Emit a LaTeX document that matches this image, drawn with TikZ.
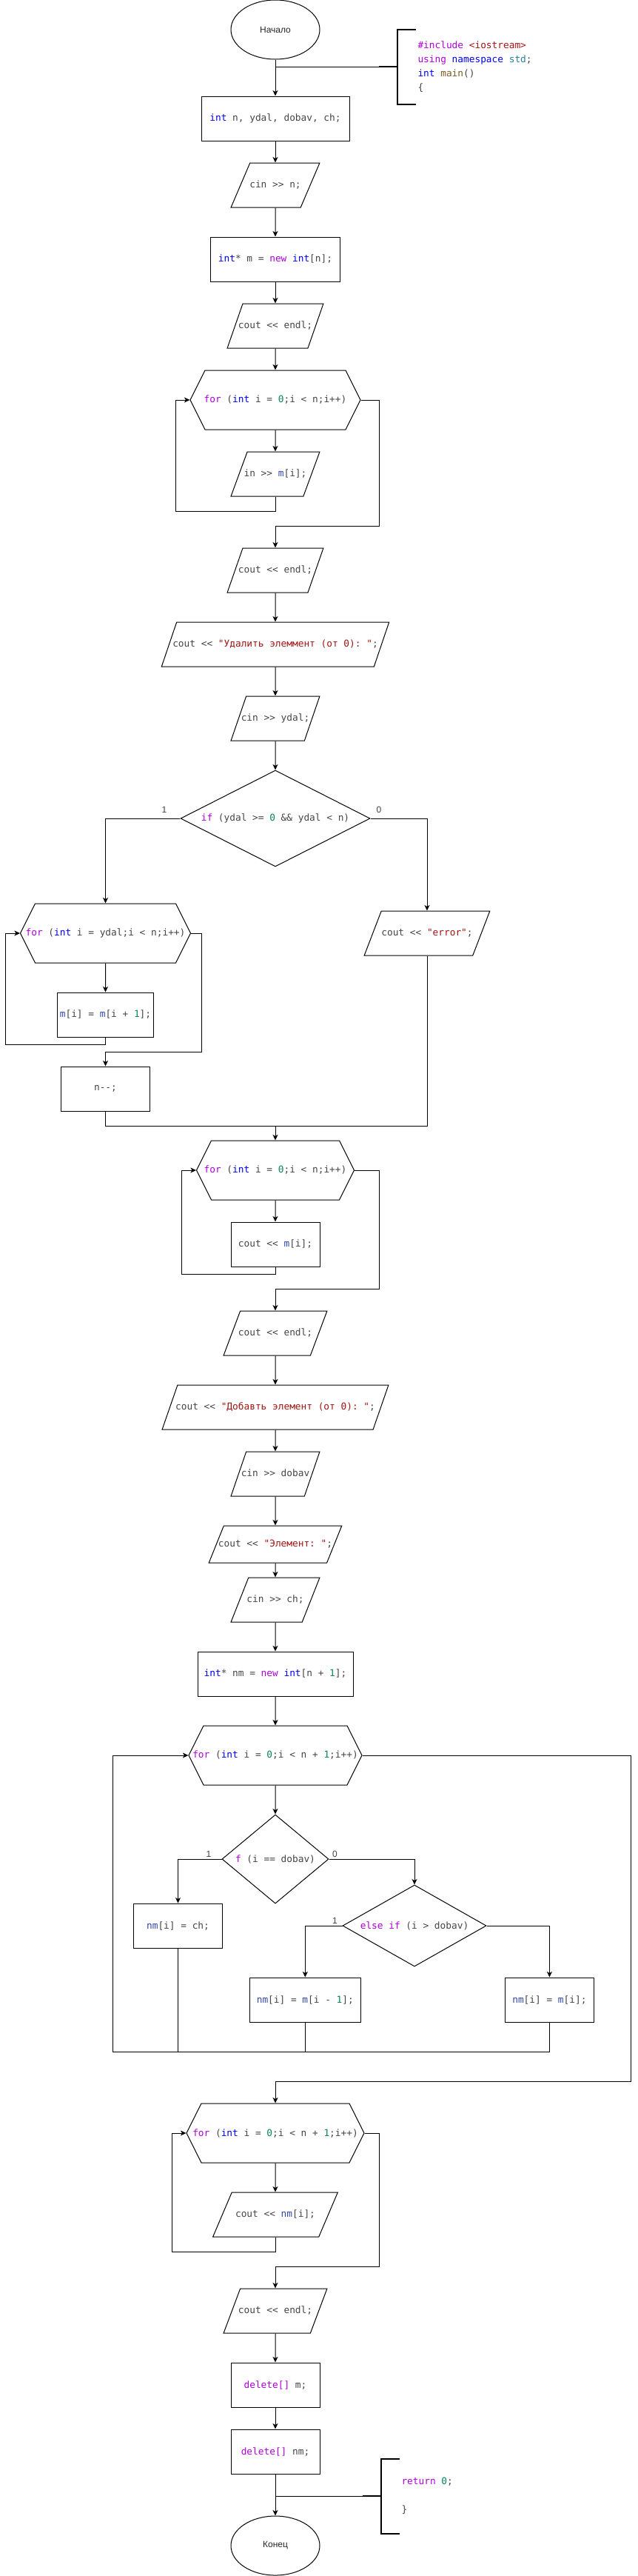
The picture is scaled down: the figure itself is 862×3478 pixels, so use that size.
\documentclass[tikz,border=0pt]{standalone}
\usepackage{fontspec}
\setmainfont{Liberation Sans}
\setmonofont{DejaVu Sans Mono}
\usetikzlibrary{arrows.meta,shapes.geometric,shapes.symbols}

\definecolor{kwcol}{HTML}{AF00DB}
\definecolor{tycol}{HTML}{0000FF}
\definecolor{numcol}{HTML}{098658}
\definecolor{strcol}{HTML}{A31515}
\definecolor{varcol}{HTML}{3246AA}
\definecolor{fncol}{HTML}{795E26}
\definecolor{nscol}{HTML}{267F99}
\definecolor{codegray}{HTML}{454545}

\newcommand{\ckw}[1]{\textcolor{kwcol}{#1}}
\newcommand{\cty}[1]{\textcolor{tycol}{#1}}
\newcommand{\cnum}[1]{\textcolor{numcol}{#1}}
\newcommand{\cstr}[1]{\textcolor{strcol}{#1}}
\newcommand{\cvar}[1]{\textcolor{varcol}{#1}}
\newcommand{\cfn}[1]{\textcolor{fncol}{#1}}
\newcommand{\cns}[1]{\textcolor{nscol}{#1}}

\begin{document}
\begin{tikzpicture}[x=1pt,y=-1pt,line width=1pt,>={Stealth[length=7.5pt,width=7pt,inset=2pt]},
  font=\ttfamily\fontsize{12.8}{16}\selectfont,text=codegray,
  term/.style={draw,ellipse,minimum width=120pt,minimum height=80pt,inner sep=0pt,
    font=\rmfamily\fontsize{12}{14}\selectfont,text=black!85},
  proc/.style={draw,rectangle,minimum height=60pt,inner sep=0pt},
  io/.style={draw,trapezium,trapezium left angle=71.57,trapezium right angle=108.43,
    trapezium stretches=true,text height=9pt,text depth=3pt,inner xsep=-8pt,inner ysep=24pt},
  loophead/.style={draw,signal,signal to=east and west,signal pointer angle=126.87,
    minimum width=230pt,minimum height=80pt,inner xsep=-16pt,inner ysep=0pt},
  decide/.style={draw,diamond,inner sep=1pt},
  note/.style={anchor=west,align=left,minimum height=100pt,inner xsep=27pt,inner ysep=0pt,
    font=\ttfamily\fontsize{12.8}{19}\selectfont},
  brk/.style={line width=2pt},
  lbl/.style={font=\rmfamily\fontsize{12}{14}\selectfont,text=black!75,inner sep=0pt}]

  \fill[white] (0,0) rectangle (862,3478);
  \useasboundingbox (0,0) rectangle (862,3478);

  % main column
  \node[term] (start) at (372,40) {Начало};
  \node[proc,minimum width=200pt] (decl) at (372,160) {\cty{int} n, ydal, dobav, ch;};
  \node[io,minimum width=120pt] (inn) at (372,250) {cin >> n;};
  \node[proc,minimum width=175pt] (newm) at (372,350) {\cty{int}* m = \ckw{new} \cty{int}[n];};
  \node[io,minimum width=130pt] (endla) at (372,440) {cout << endl;};
  \node[loophead] (fora) at (372,540) {\ckw{for} (\cty{int} i = \cnum{0};i < n;i++)};
  \node[io,minimum width=120pt] (inm) at (372,640) {in >> \cvar{m}[i];};
  \node[io,minimum width=130pt] (endlb) at (372,770) {cout << endl;};
  \node[io,minimum width=308pt] (askdel) at (372,870) {cout << \cstr{"Удалить элеммент (от 0): "};};
  \node[io,minimum width=120pt] (inydal) at (372,970) {cin >> ydal;};
  \node[decide,minimum width=256pt,minimum height=130pt,shape aspect=1.97] (ifdel) at (372,1105)
    {\ckw{if} (ydal >= \cnum{0} \&\& ydal < n)};

  % removing branch
  \node[loophead] (forb) at (142.5,1260) {\ckw{for} (\cty{int} i = ydal;i < n;i++)};
  \node[proc,minimum width=130pt] (shift) at (142.5,1370) {\cvar{m}[i] = \cvar{m}[i + \cnum{1}];};
  \node[proc,minimum width=120pt] (dec) at (142.5,1470) {n--;};
  \node[io,minimum width=170pt] (err) at (577,1260) {cout << \cstr{"error"};};

  \node[loophead,minimum width=213pt] (forc) at (372,1580) {\ckw{for} (\cty{int} i = \cnum{0};i < n;i++)};
  \node[proc,minimum width=120pt] (outm) at (372,1680) {cout << \cvar{m}[i];};
  \node[io,minimum width=140pt] (endlc) at (372,1800) {cout << endl;};
  \node[io,minimum width=306pt] (askadd) at (372,1900) {cout << \cstr{"Добавть элемент (от 0): "};};
  \node[io,minimum width=120pt] (indob) at (372,1990) {cin >> dobav};
  \node[io,minimum width=180pt,inner ysep=19pt,trapezium left angle=68.2,
    trapezium right angle=111.8] (askch) at (372,2085) {cout << \cstr{"Элемент: "};};
  \node[io,minimum width=120pt] (inch) at (372,2160) {cin >> ch;};
  \node[proc,minimum width=210pt] (newnm) at (372,2260) {\cty{int}* nm = \ckw{new} \cty{int}[n + \cnum{1}];};

  % adding loop
  \node[loophead,minimum width=234pt] (ford) at (372,2370)
    {\ckw{for} (\cty{int} i = \cnum{0};i < n + \cnum{1};i++)};
  \node[decide,minimum width=144pt,minimum height=120pt,shape aspect=1.2] (ifeq) at (372,2510)
    {\ckw{f} (i == dobav)};
  \node[proc,minimum width=120pt] (seteq) at (240.5,2600) {\cvar{nm}[i] = ch;};
  \node[decide,minimum width=194pt,minimum height=110pt,shape aspect=1.76] (ifgt) at (560,2600)
    {\ckw{else if} (i > dobav)};
  \node[proc,minimum width=150pt] (setgt) at (412.3,2700) {\cvar{nm}[i] = \cvar{m}[i - \cnum{1}];};
  \node[proc,minimum width=120pt] (setlt) at (742.4,2700) {\cvar{nm}[i] = \cvar{m}[i];};

  \node[loophead,minimum width=240pt] (fore) at (372,2880)
    {\ckw{for} (\cty{int} i = \cnum{0};i < n + \cnum{1};i++)};
  \node[io,minimum width=169pt] (outnm) at (372,2990) {cout << \cvar{nm}[i];};
  \node[io,minimum width=140pt] (endld) at (372,3120) {cout << endl;};
  \node[proc,minimum width=120pt] (delm) at (372,3220) {\ckw{delete[]} m;};
  \node[proc,minimum width=120pt] (delnm) at (372,3310) {\ckw{delete[]} nm;};
  \node[term] (finish) at (372,3437) {Конец};

  % comments
  \coordinate (jtop) at (372,90);
  \node[note] (incl) at (537,90)
    {\ckw{\#include} \cstr{<iostream>}\\\ckw{using} \cty{namespace} \cns{std};\\\cty{int} \cfn{main}()\\\{};
  \coordinate (jbot) at (372,3370);
  \node[note] (ret) at (515,3370) {\ckw{return} \cnum{0};\\[19pt]\}};
  \draw (jtop) -- (incl.west);
  \draw[brk] (incl.west) -- ++(-25,0);
  \draw[brk] ([xshift=25pt]incl.north west) -- (incl.north west) -- (incl.south west) -- ([xshift=25pt]incl.south west);
  \draw (jbot) -- (ret.west);
  \draw[brk] (ret.west) -- ++(-25,0);
  \draw[brk] ([xshift=25pt]ret.north west) -- (ret.north west) -- (ret.south west) -- ([xshift=25pt]ret.south west);

  % straight flow
  \foreach \from/\to in {start/decl,decl/inn,inn/newm,newm/endla,endla/fora,fora/inm,
      endlb/askdel,askdel/inydal,inydal/ifdel,forb/shift,forc/outm,endlc/askadd,
      askadd/indob,indob/askch,askch/inch,inch/newnm,newnm/ford,ford/ifeq,fore/outnm,
      endld/delm,delm/delnm,delnm/finish}
    \draw[->] (\from) -- (\to);

  % loops and branches
  \coordinate (loopa) at (237.7,690);
  \coordinate (exita) at (512.3,710);
  \draw[->] (inm) |- (loopa) |- (fora);
  \draw[->] (fora) -| (exita) -| (endlb);

  \draw[->] (ifdel) -| (forb);
  \draw[->] (ifdel) -| (err);
  \coordinate (loopb) at (7.6,1410);
  \coordinate (exitb) at (272.3,1420);
  \draw[->] (shift) |- (loopb) |- (forb);
  \draw[->] (forb) -| (exitb) -| (dec);
  \coordinate (joinc) at (372,1520);
  \draw[->] (dec) |- (joinc) -- (forc);
  \draw (err) |- (joinc);

  \coordinate (loopc) at (245.5,1720);
  \coordinate (exitc) at (512.3,1740);
  \draw[->] (outm) |- (loopc) |- (forc);
  \draw[->] (forc) -| (exitc) -| (endlc);

  \draw[->] (ifeq) -| (seteq);
  \draw[->] (ifeq) -| (ifgt);
  \draw[->] (ifgt) -| (setgt);
  \draw[->] (ifgt) -| (setlt);
  \coordinate (loopd) at (152.3,2770);
  \coordinate (exitd) at (852,2810);
  \draw[->] (setlt) |- (loopd) |- (ford);
  \draw (seteq) -- (seteq |- loopd);
  \draw (setgt) -- (setgt |- loopd);
  \draw[->] (ford) -| (exitd) -| (fore);

  \coordinate (loope) at (232.5,3040);
  \coordinate (exite) at (512.3,3060);
  \draw[->] (outnm) |- (loope) |- (fore);
  \draw[->] (fore) -| (exite) -| (endld);

  \node[lbl] (yesa) at (222,1093) {1};
  \node[lbl] (noa) at (512,1093) {0};
  \node[lbl] (yesb) at (282,2503) {1};
  \node[lbl] (nob) at (452.4,2503) {0};
  \node[lbl] (yesc) at (452.4,2593) {1};
\end{tikzpicture}
\end{document}
